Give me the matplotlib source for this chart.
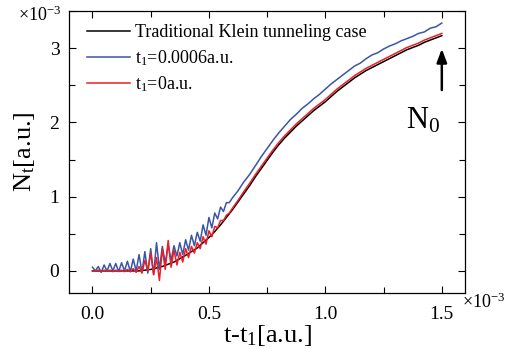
import matplotlib
matplotlib.use("Agg")
import matplotlib.pyplot as plt
from matplotlib.ticker import MultipleLocator
import numpy as np

plt.rcParams['font.family'] = ['Liberation Serif', 'DejaVu Serif']
plt.rcParams['mathtext.fontset'] = 'custom'
plt.rcParams['mathtext.rm'] = 'Liberation Serif'
plt.rcParams['mathtext.it'] = 'Liberation Serif:italic'

# time axis values in units of 1e-3 a.u.; N values in units of 1e-3
t_black = [0.0, 0.025, 0.05, 0.075, 0.1, 0.125, 0.15, 0.175, 0.2, 0.225, 0.25, 0.275,
           0.3, 0.325, 0.35, 0.375, 0.4, 0.425, 0.45, 0.475, 0.5, 0.525, 0.55, 0.575,
           0.6, 0.625, 0.65, 0.675, 0.7, 0.725, 0.75, 0.775, 0.8, 0.825, 0.85, 0.875,
           0.9, 0.925, 0.95, 0.975, 1.0, 1.025, 1.05, 1.075, 1.1, 1.125, 1.15, 1.175,
           1.2, 1.225, 1.25, 1.275, 1.3, 1.325, 1.35, 1.375, 1.4, 1.425, 1.45, 1.475, 1.5]
n_black = [0, 0, 0, 0, 0, 0, 0, 0, 0.0, 0.01, 0.02, 0.04,
           0.06, 0.09, 0.12, 0.165, 0.21, 0.26, 0.31, 0.38, 0.45, 0.53, 0.62, 0.72,
           0.82, 0.93, 1.04, 1.15, 1.27, 1.38, 1.49, 1.60, 1.70, 1.79, 1.87, 1.95,
           2.02, 2.09, 2.16, 2.22, 2.28, 2.35, 2.42, 2.48, 2.54, 2.60, 2.65, 2.70,
           2.74, 2.78, 2.82, 2.86, 2.90, 2.94, 2.98, 3.01, 3.04, 3.08, 3.11, 3.14, 3.17]

t_noisy = [0.0, 0.0125, 0.025, 0.0375, 0.05, 0.0625, 0.075, 0.0875, 0.1, 0.1125,
           0.125, 0.1375, 0.15, 0.1625, 0.175, 0.1875, 0.2, 0.2125, 0.225, 0.2375,
           0.25, 0.2625, 0.275, 0.2875, 0.3, 0.3125, 0.325, 0.3375, 0.35, 0.3625,
           0.375, 0.3875, 0.4, 0.4125, 0.425, 0.4375, 0.45, 0.4625, 0.475, 0.4875,
           0.5, 0.5125, 0.525, 0.5375, 0.55, 0.5625, 0.575, 0.5875, 0.6]
t_smooth = [0.625, 0.65, 0.675, 0.7, 0.725, 0.75, 0.775, 0.8, 0.825, 0.85, 0.875,
            0.9, 0.925, 0.95, 0.975, 1.0, 1.025, 1.05, 1.075, 1.1, 1.125, 1.15, 1.175,
            1.2, 1.225, 1.25, 1.275, 1.3, 1.325, 1.35, 1.375, 1.4, 1.425, 1.45, 1.475, 1.5]

n_blue_noisy = [0.05, 0.0, 0.06, -0.02, 0.08, 0.0, 0.10, 0.0, 0.10, -0.01,
                0.11, 0.0, 0.13, -0.01, 0.16, 0.0, 0.22, -0.02, 0.26, -0.03,
                0.30, -0.05, 0.38, 0.02, 0.33, 0.10, 0.35, 0.14, 0.34, 0.20,
                0.38, 0.22, 0.42, 0.28, 0.48, 0.34, 0.52, 0.40, 0.62, 0.48,
                0.72, 0.58, 0.78, 0.70, 0.86, 0.80, 0.92, 0.92, 0.98]
n_blue_smooth = [1.08, 1.20, 1.30, 1.42, 1.54, 1.65, 1.76, 1.86, 1.95, 2.04, 2.11,
                 2.19, 2.25, 2.32, 2.38, 2.45, 2.52, 2.58, 2.64, 2.70, 2.76, 2.80, 2.86,
                 2.91, 2.94, 2.99, 3.03, 3.06, 3.10, 3.13, 3.16, 3.20, 3.22, 3.27, 3.29, 3.34]

n_red_noisy = [0.0, 0.0, 0.01, -0.01, 0.01, 0.0, 0.01, -0.01, 0.01, 0.0,
               0.01, -0.01, 0.02, -0.01, 0.03, -0.02, 0.06, -0.03, 0.14, 0.0,
               0.24, -0.05, 0.18, -0.13, 0.30, 0.02, 0.41, 0.05, 0.28, 0.08,
               0.25, 0.12, 0.30, 0.18, 0.33, 0.24, 0.38, 0.30, 0.46, 0.36,
               0.54, 0.46, 0.60, 0.58, 0.68, 0.68, 0.75, 0.78, 0.84]
n_red_smooth = [0.95, 1.07, 1.18, 1.30, 1.41, 1.52, 1.63, 1.73, 1.82, 1.90, 1.98,
                2.05, 2.12, 2.19, 2.25, 2.31, 2.38, 2.45, 2.51, 2.57, 2.63, 2.68, 2.73,
                2.77, 2.81, 2.85, 2.89, 2.93, 2.97, 3.01, 3.04, 3.07, 3.11, 3.14, 3.17, 3.20]

labels = ['Traditional Klein tunneling case', 't$_\\mathrm{1}$=0.0006a.u.', 't$_\\mathrm{1}$=0a.u.']
x_ticks = [0.0, 0.5, 1.0, 1.5]
x_ticklabels = ['0.0', '0.5', '1.0', '1.5']
y_ticks = [0, 1, 2, 3]
y_ticklabels = ['0', '1', '2', '3']

fig = plt.figure(figsize=(5.05, 3.49), dpi=100)
ax = fig.add_axes([0.137, 0.160, 0.784, 0.808])

t_rb = t_noisy + t_smooth
ax.plot(t_black, n_black, color='black', lw=1.1, label=labels[0])
ax.plot(t_rb, n_blue_noisy + n_blue_smooth, color='#3a55a8', lw=1.1, label=labels[1])
ax.plot(t_rb, n_red_noisy + n_red_smooth, color='#ee1c24', lw=1.1, label=labels[2])

ax.set_xlim(-0.1, 1.6)
ax.set_ylim(-0.3, 3.5)
ax.set_xticks(x_ticks)
ax.set_xticklabels(x_ticklabels)
ax.set_yticks(y_ticks)
ax.set_yticklabels(y_ticklabels)
ax.xaxis.set_minor_locator(MultipleLocator(0.25))
ax.yaxis.set_minor_locator(MultipleLocator(0.5))
ax.tick_params(which='both', direction='in', top=True, right=True, labelsize=14,
               width=0.8)
ax.tick_params(axis='x', pad=9)
ax.tick_params(axis='y', pad=7)
ax.tick_params(which='major', length=5)
ax.tick_params(which='minor', length=4)
for s in ax.spines.values():
    s.set_linewidth(0.9)

ax.set_xlabel('t-t$_\\mathrm{1}$[a.u.]', fontsize=19, labelpad=0)
ax.set_ylabel('N$_\\mathrm{t}$[a.u.]', fontsize=19, labelpad=9)

fig.text(0.035, 0.955, '\u00d710$^{-3}$', fontsize=13, ha='left', va='center')
fig.text(0.915, 0.135, '\u00d710$^{-3}$', fontsize=13, ha='left', va='center')

leg = ax.legend(loc='upper left', frameon=False, fontsize=13, handlelength=2.35,
                handletextpad=0.3, labelspacing=0.38, borderaxespad=0.2,
                bbox_to_anchor=(0.018, 0.993))

ax.annotate('', xy=(1.5, 3.03), xytext=(1.5, 2.40),
            arrowprops=dict(arrowstyle='-|>,head_length=0.8,head_width=0.3',
                            color='black', lw=1.8))
ax.text(1.42, 2.03, 'N$_\\mathrm{0}$', fontsize=22, ha='center', va='center')

fig.savefig('out.png', dpi=100)
